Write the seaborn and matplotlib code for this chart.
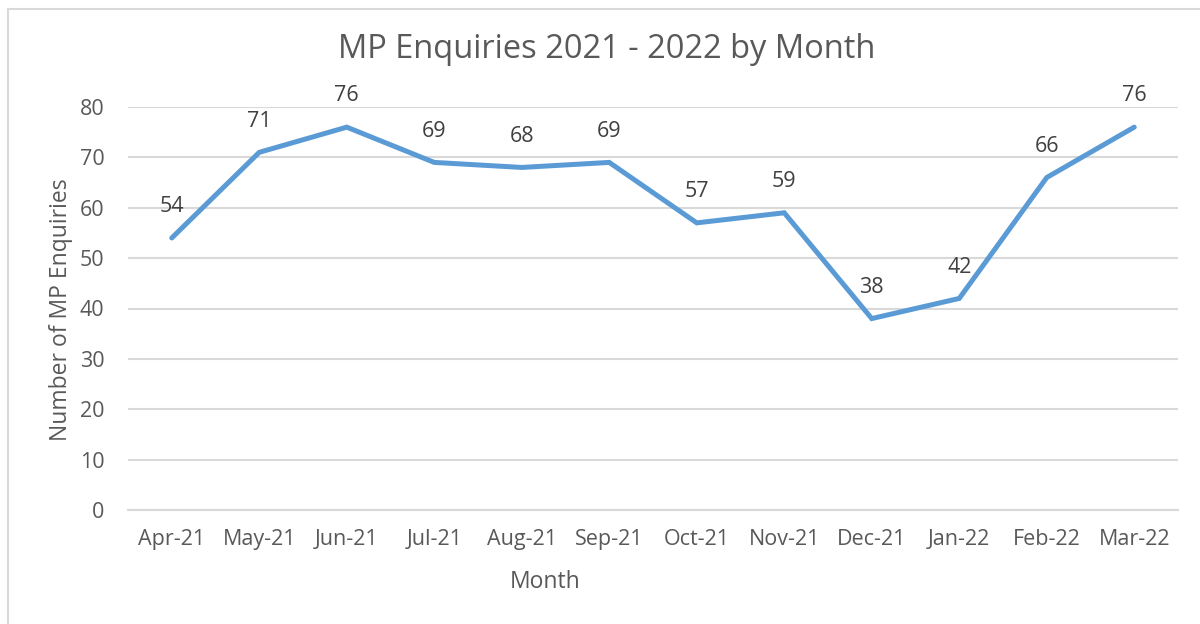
import seaborn as sns
import matplotlib.pyplot as plt
import pandas as pd
from matplotlib.patches import Rectangle

months = ["Apr-21", "May-21", "Jun-21", "Jul-21", "Aug-21", "Sep-21",
          "Oct-21", "Nov-21", "Dec-21", "Jan-22", "Feb-22", "Mar-22"]
enquiries = [54, 71, 76, 69, 68, 69, 57, 59, 38, 42, 66, 76]
y_ticks = [0, 10, 20, 30, 40, 50, 60, 70, 80]

text_color = "#595959"
grid_color = "#d9d9d9"
line_color = "#5b9bd5"

sns.set_style("white")
plt.rcParams["font.family"] = ["Open Sans", "DejaVu Sans"]

df = pd.DataFrame({"Month": months, "Enquiries": enquiries})
df["pos"] = range(len(months))

fig = plt.figure(figsize=(12, 6.24), dpi=100)
ax = fig.add_axes([128 / 1200, 1 - 510 / 624, 1050 / 1200, 403 / 624])

sns.lineplot(data=df, x="pos", y="Enquiries", ax=ax, color=line_color,
             linewidth=3.6, solid_joinstyle="miter", zorder=3)

for x, y in zip(df["pos"], df["Enquiries"]):
    ax.annotate(str(y), (x, y), xytext=(0, 22.5), textcoords="offset points",
                ha="center", va="center", fontsize=15.5, color="#404040",
                annotation_clip=False)

ax.set_xlim(-0.5, len(months) - 0.5)
ax.set_ylim(0, 80)
ax.set_yticks(y_ticks)
ax.set_xticks(range(len(months)))
ax.set_xticklabels(months)
ax.set_xticks([i - 0.5 for i in range(len(months) + 1)], minor=True)
ax.tick_params(axis="x", which="major", length=0, pad=14, labelsize=15.5,
               labelcolor=text_color)
ax.tick_params(axis="x", which="minor", length=7, width=1.5, color=grid_color)
ax.tick_params(axis="y", length=0, pad=17, labelsize=15.5, labelcolor=text_color)
ax.yaxis.grid(True, color=grid_color, linewidth=1.5)
ax.set_axisbelow(True)

for side in ["top", "right", "left"]:
    ax.spines[side].set_visible(False)
ax.spines["bottom"].set_color(grid_color)
ax.spines["bottom"].set_linewidth(1.5)
ax.spines["bottom"].set_zorder(2)

ax.set_xlabel("Month", fontsize=16.5, color=text_color)
ax.xaxis.set_label_coords(0.397, -0.15)
ax.set_ylabel("Number of MP Enquiries", fontsize=16.5, color=text_color)
ax.yaxis.set_label_coords(-0.052, 0.496)

fig.text(607 / 1200, 1 - 50 / 624, "MP Enquiries 2021 - 2022 by Month",
         ha="center", va="center", fontsize=23.5, color=text_color)

border = Rectangle((8 / 1200, -0.05), 1.2, 1 - 9 / 624 + 0.05,
                   transform=fig.transFigure, fill=False,
                   edgecolor=grid_color, linewidth=1.5, clip_on=False)
fig.patches.append(border)

fig.savefig("out.png", dpi=100)
